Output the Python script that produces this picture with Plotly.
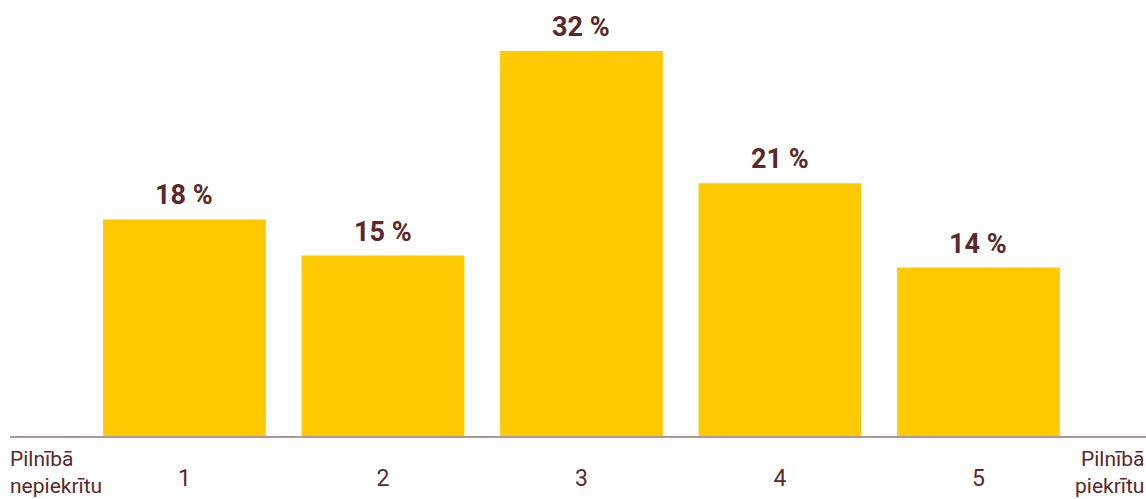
import plotly.graph_objects as go

categories = [1, 2, 3, 4, 5]
tick_labels = ["1", "2", "3", "4", "5"]
values = [18, 15, 32, 21, 14]
bar_labels = [f"{v} %" for v in values]
left_label = "Pilnībā<br>nepiekrītu"
right_label = "Pilnībā<br>piekrītu"

TEXT = "#5c2828"
BAR = "#ffcb00"

fig = go.Figure(go.Bar(
    x=categories, y=values, width=0.82,
    marker=dict(color=BAR, line=dict(width=0)),
    hoverinfo="skip",
))

annotations = [
    dict(text=lab, x=c, y=v, xref="x", yref="y", xanchor="center", yanchor="bottom",
         yshift=6, showarrow=False,
         font=dict(family="Roboto", size=27, color=TEXT, weight="bold"))
    for c, v, lab in zip(categories, values, bar_labels)
]
annotations += [
    dict(text=left_label, xref="paper", yref="paper", x=0, y=0,
         xanchor="left", yanchor="top", yshift=-9, xshift=-2, align="left",
         showarrow=False, font=dict(family="Roboto", size=21, color=TEXT)),
    dict(text=right_label, xref="paper", yref="paper", x=1, y=0,
         xanchor="right", yanchor="top", yshift=-9, align="right",
         showarrow=False, font=dict(family="Roboto", size=21, color=TEXT)),
]

fig.update_layout(
    width=1146, height=499,
    margin=dict(l=10, r=0, t=0, b=63),
    paper_bgcolor="white", plot_bgcolor="white",
    showlegend=False,
    font=dict(family="Roboto", color=TEXT, size=20),
    xaxis=dict(range=[0.121, 5.844], tickvals=categories, ticktext=tick_labels,
               showgrid=False, zeroline=False, showline=True,
               linecolor="#b39595", linewidth=2, ticks="",
               tickfont=dict(family="Roboto", size=23, color=TEXT),
               ticklabelstandoff=20),
    yaxis=dict(range=[0, 32 * 436 / 385], visible=False),
    annotations=annotations,
)

fig.write_html("out.html", config={"displayModeBar": False},
               post_script="document.body.style.margin='0';document.body.style.overflow='hidden';")
